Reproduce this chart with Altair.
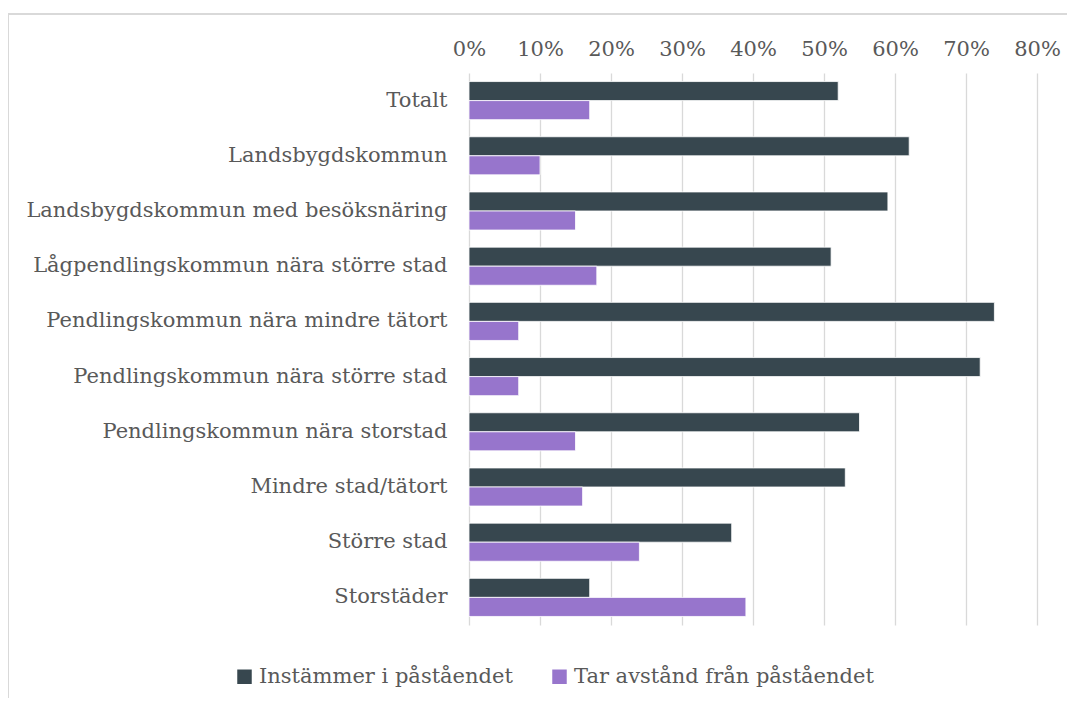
import altair as alt
import pandas as pd

categories = [
    "Totalt",
    "Landsbygdskommun",
    "Landsbygdskommun med besöksnäring",
    "Lågpendlingskommun nära större stad",
    "Pendlingskommun nära mindre tätort",
    "Pendlingskommun nära större stad",
    "Pendlingskommun nära storstad",
    "Mindre stad/tätort",
    "Större stad",
    "Storstäder",
]
series_names = ["Instämmer i påståendet", "Tar avstånd från påståendet"]
instammer = [0.52, 0.62, 0.59, 0.51, 0.74, 0.72, 0.55, 0.53, 0.37, 0.17]
tar_avstand = [0.17, 0.10, 0.15, 0.18, 0.07, 0.07, 0.15, 0.16, 0.24, 0.39]
colors = ["#37474F", "#9775CC"]

rows = []
for c, a, b in zip(categories, instammer, tar_avstand):
    rows.append({"kategori": c, "serie": series_names[0], "andel": a})
    rows.append({"kategori": c, "serie": series_names[1], "andel": b})
df = pd.DataFrame(rows)

FONT = "DejaVu Serif"
TXT = "#595959"

bars = alt.Chart(df).mark_bar(stroke="#ffffff", strokeWidth=0.8).encode(
    x=alt.X(
        "andel:Q",
        scale=alt.Scale(domain=[0, 0.8], nice=False),
        axis=alt.Axis(
            orient="top",
            format=".0%",
            values=[0, 0.1, 0.2, 0.3, 0.4, 0.5, 0.6, 0.7, 0.8],
            title=None,
            domain=False,
            ticks=False,
            grid=True,
            gridColor="#d9d9d9",
            gridWidth=1.3,
            labelFont=FONT,
            labelFontSize=21,
            labelColor=TXT,
            labelPadding=14,
            labelFlush=False,
            labelOverlap=False,
            labelBound=False,
        ),
    ),
    y=alt.Y(
        "kategori:N",
        sort=categories,
        scale=alt.Scale(paddingInner=0.31, paddingOuter=0.155),
        axis=alt.Axis(
            title=None,
            domain=False,
            ticks=False,
            grid=False,
            labelFont=FONT,
            labelFontSize=21,
            labelColor=TXT,
            labelPadding=22,
            labelLimit=600,
        ),
    ),
    yOffset=alt.YOffset("serie:N", sort=series_names),
    color=alt.Color(
        "serie:N",
        sort=series_names,
        scale=alt.Scale(domain=series_names, range=colors),
        legend=alt.Legend(
            title=None,
            orient="none",
            direction="horizontal",
            legendX=-235,
            legendY=593,
            symbolType="square",
            symbolSize=210,
            symbolStrokeWidth=0,
            labelFont=FONT,
            labelFontSize=21,
            labelColor=TXT,
            labelOffset=4,
            labelLimit=600,
            columnPadding=36,
        ),
    ),
)

frame_top = alt.Chart(df).mark_rule(color="#d9d9d9", strokeWidth=1.5).encode(
    x=alt.value(-461), x2=alt.value(700), y=alt.value(-59)
)
frame_left = alt.Chart(df).mark_rule(color="#d9d9d9", strokeWidth=1.5).encode(
    x=alt.value(-461), y=alt.value(-59), y2=alt.value(700)
)

chart = (
    alt.layer(bars, frame_top, frame_left)
    .properties(
        width=568,
        height=552,
        padding={"left": 461, "top": 65, "right": 30, "bottom": 73},
        autosize=alt.AutoSizeParams(type="none"),
    )
    .configure_view(stroke=None)
)

chart.save("out.html", embed_options={"renderer": "svg", "actions": False})
